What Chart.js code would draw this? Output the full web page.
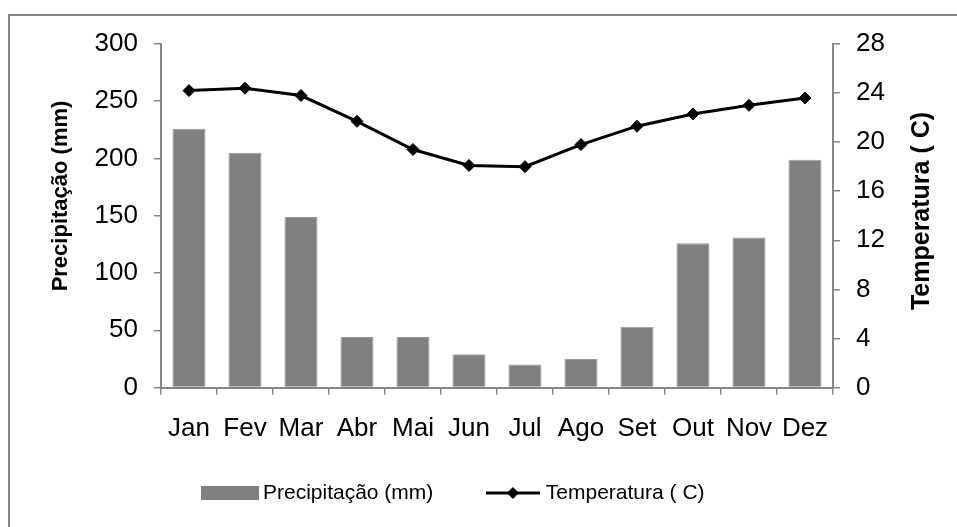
<!DOCTYPE html>
<html lang="pt">
<head>
  <meta charset="UTF-8" />
  <title>Precipitação e Temperatura</title>
  <style>
    body {
      margin: 0;
      background: #fff;
      overflow: hidden;
    }
    .wrap {
      position: relative;
      width: 957px;
      height: 527px;
    }
  </style>
</head>
<body>
  <div class="wrap">
    <canvas id="climaChart"></canvas>
  </div>

  <script src="https://cdn.jsdelivr.net/npm/chart.js"></script>
  <script>
    const months = ["Jan", "Fev", "Mar", "Abr", "Mai", "Jun", "Jul", "Ago", "Set", "Out", "Nov", "Dez"];
    const precipitation = [226, 205, 149, 44, 44, 29, 20, 25, 53, 126, 131, 199];
    const temperature = [24.2, 24.4, 23.8, 21.7, 19.4, 18.1, 18.0, 19.8, 21.3, 22.3, 23.0, 23.6];
    const leftTitle = "Precipitação (mm)";
    const rightTitle = "Temperatura ( C)";

    const FONT = "'Liberation Sans', Arial, sans-serif";
    const AXIS_GRAY = "#868686";

    // legend symbols drawn into small canvases
    const barSwatch = document.createElement("canvas");
    barSwatch.width = 58;
    barSwatch.height = 14;
    let c = barSwatch.getContext("2d");
    c.fillStyle = "#808080";
    c.fillRect(0, 0, 58, 14);

    const lineSwatch = document.createElement("canvas");
    lineSwatch.width = 54;
    lineSwatch.height = 14;
    c = lineSwatch.getContext("2d");
    c.strokeStyle = "#000";
    c.lineWidth = 3;
    c.beginPath();
    c.moveTo(0, 7);
    c.lineTo(54, 7);
    c.stroke();
    c.fillStyle = "#000";
    c.beginPath();
    c.moveTo(27, 1);
    c.lineTo(33, 7);
    c.lineTo(27, 13);
    c.lineTo(21, 7);
    c.closePath();
    c.fill();

    // outer frame + axis titles (right one reads bottom to top)
    const decorations = {
      id: "decorations",
      afterLayout(chart) {
        // legend sits a bit higher than its box, over the empty part of the x axis
        chart.legend.top -= 22;
        chart.legend.bottom -= 22;
      },
      afterDraw(chart) {
        const ctx = chart.ctx;
        ctx.save();
        ctx.strokeStyle = AXIS_GRAY;
        ctx.lineWidth = 2;
        ctx.beginPath();
        ctx.moveTo(9, 527);
        ctx.lineTo(9, 15);
        ctx.lineTo(957, 15);
        ctx.stroke();

        ctx.fillStyle = "#000";
        ctx.textAlign = "center";
        ctx.textBaseline = "middle";

        ctx.save();
        ctx.translate(61, 196);
        ctx.rotate(-Math.PI / 2);
        ctx.font = "bold 22px " + FONT;
        ctx.fillText(leftTitle, 0, 0);
        ctx.restore();

        ctx.save();
        ctx.translate(922, 211);
        ctx.rotate(-Math.PI / 2);
        ctx.font = "bold 25px " + FONT;
        ctx.fillText(rightTitle, 0, 0);
        ctx.restore();

        ctx.restore();
      }
    };

    const axisGrid = {
      display: true,
      drawOnChartArea: false,
      drawTicks: true,
      tickLength: 7,
      color: AXIS_GRAY,
      lineWidth: 1.5
    };
    const axisBorder = { display: true, color: AXIS_GRAY, width: 2 };

    new Chart(document.getElementById("climaChart"), {
      type: "bar",
      data: {
        labels: months,
        datasets: [
          {
            type: "bar",
            label: "Precipitação (mm)",
            data: precipitation,
            yAxisID: "y",
            backgroundColor: "#808080",
            borderColor: "#9a9a9a",
            borderWidth: 1,
            barPercentage: 0.59,
            categoryPercentage: 1,
            order: 1
          },
          {
            type: "line",
            label: "Temperatura ( C)",
            data: temperature,
            yAxisID: "y1",
            borderColor: "#000",
            backgroundColor: "#000",
            borderWidth: 3,
            pointStyle: "rectRot",
            pointRadius: 6,
            pointBorderWidth: 1,
            tension: 0,
            order: 0
          }
        ]
      },
      options: {
        responsive: true,
        maintainAspectRatio: false,
        animation: false,
        devicePixelRatio: 1,
        layout: {
          padding: { top: 44, left: 0, right: 45, bottom: -8.5 }
        },
        plugins: {
          tooltip: { enabled: false },
          legend: {
            position: "bottom",
            labels: {
              usePointStyle: true,
              pointStyleWidth: 45,
              padding: 57,
              color: "#000",
              font: { family: FONT, size: 21 },
              sort: (a, b) => a.datasetIndex - b.datasetIndex,
              generateLabels(chart) {
                const items = Chart.defaults.plugins.legend.labels.generateLabels(chart);
                items.forEach(it => {
                  it.pointStyle = it.datasetIndex === 0 ? barSwatch : lineSwatch;
                });
                return items;
              }
            }
          }
        },
        scales: {
          x: {
            offset: true,
            grid: { ...axisGrid, offset: true },
            border: axisBorder,
            ticks: {
              color: "#000",
              padding: 19,
              font: { family: FONT, size: 26 }
            },
            afterFit(scale) { scale.height = 60; }
          },
          y: {
            position: "left",
            min: 0,
            max: 300,
            grid: axisGrid,
            border: axisBorder,
            ticks: {
              stepSize: 50,
              color: "#000",
              padding: 16,
              font: { family: FONT, size: 26 }
            },
            afterFit(scale) { scale.width = 161; }
          },
          y1: {
            position: "right",
            min: 0,
            max: 28,
            grid: axisGrid,
            border: axisBorder,
            ticks: {
              stepSize: 4,
              color: "#000",
              padding: 16,
              font: { family: FONT, size: 26 }
            },
            afterFit(scale) { scale.width = 79; }
          }
        }
      },
      plugins: [decorations]
    });
  </script>
</body>
</html>
